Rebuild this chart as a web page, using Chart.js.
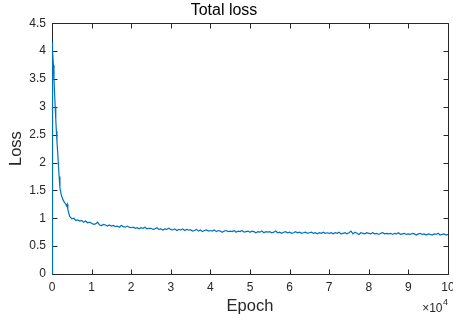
<!DOCTYPE html>
<html>
<head>
<meta charset="utf-8">
<title>Total loss</title>
<script src="https://cdn.jsdelivr.net/npm/chart.js@4.4.1/dist/chart.umd.min.js"></script>
<style>
  html, body { margin: 0; padding: 0; background: #fff; }
  #wrap { width: 453px; height: 321px; position: relative; }
</style>
</head>
<body>
<div id="wrap"><canvas id="lossChart"></canvas></div>
<script>
// === Data ===
// first few thousand epochs, sampled unevenly where the curve drops fast
const earlyEpochs = [0, 80, 200, 350, 500, 650, 800, 950, 1100, 1250, 1400, 1600, 1800, 2000, 2250, 2500, 2800, 3100, 3400, 3700, 3850, 4000, 4250, 4500, 4750];
const earlyLoss = [0, 4.16, 4.0, 3.75, 3.5, 3.25, 3.0, 2.78, 2.56, 2.38, 2.22, 1.98, 1.75, 1.55, 1.45, 1.38, 1.33, 1.29, 1.26, 1.22, 1.25, 1.16, 1.09, 1.03, 1.01];

// rest of the run, one reading every 500 epochs from 5000 to 100000
const tailStart = 5000;
const tailStep = 500;
const tailLoss = [
  0.99, 1.00, 0.96, 0.97, 0.95, 0.96, 0.93, 0.95, 0.92, 0.93,
  0.91, 0.89, 0.90, 0.93, 0.88, 0.87, 0.89, 0.88, 0.86, 0.88,
  0.86, 0.87, 0.85, 0.86, 0.84, 0.87, 0.85, 0.84, 0.86, 0.84,
  0.83, 0.84, 0.82, 0.83, 0.81, 0.83, 0.82, 0.84, 0.81, 0.82,
  0.82, 0.80, 0.81, 0.83, 0.80, 0.81, 0.79, 0.81, 0.80, 0.82,
  0.80, 0.79, 0.81, 0.78, 0.80, 0.79, 0.81, 0.78, 0.80, 0.79,
  0.79, 0.77, 0.78, 0.80, 0.77, 0.79, 0.76, 0.78, 0.79, 0.77,
  0.78, 0.77, 0.79, 0.76, 0.78, 0.77, 0.75, 0.77, 0.78, 0.76,
  0.77, 0.76, 0.78, 0.75, 0.77, 0.76, 0.78, 0.75, 0.76, 0.77,
  0.75, 0.77, 0.76, 0.74, 0.76, 0.75, 0.77, 0.74, 0.76, 0.75,
  0.76, 0.74, 0.75, 0.77, 0.74, 0.75, 0.73, 0.75, 0.76, 0.74,
  0.75, 0.73, 0.74, 0.76, 0.74, 0.75, 0.73, 0.74, 0.75, 0.73,
  0.74, 0.75, 0.73, 0.74, 0.72, 0.74, 0.73, 0.75, 0.73, 0.74,
  0.73, 0.74, 0.72, 0.74, 0.73, 0.75, 0.72, 0.73, 0.74, 0.72,
  0.74, 0.77, 0.72, 0.75, 0.73, 0.71, 0.74, 0.73, 0.72, 0.74,
  0.73, 0.72, 0.74, 0.72, 0.73, 0.71, 0.73, 0.74, 0.72, 0.73,
  0.72, 0.73, 0.71, 0.73, 0.72, 0.74, 0.71, 0.72, 0.73, 0.71,
  0.72, 0.71, 0.73, 0.72, 0.70, 0.72, 0.73, 0.71, 0.72, 0.70,
  0.72, 0.71, 0.70, 0.72, 0.71, 0.73, 0.70, 0.71, 0.72, 0.70, 0.71
];

const xTicks = [0, 10000, 20000, 30000, 40000, 50000, 60000, 70000, 80000, 90000, 100000];
const yTicks = [0, 0.5, 1, 1.5, 2, 2.5, 3, 3.5, 4, 4.5];

const FONT = "'Liberation Sans', Arial, Helvetica, sans-serif";
const AXIS_COLOR = "#262626";
const LINE_COLOR = "#0072BD";

// === Build point list ===
const points = earlyEpochs.map((e, i) => ({ x: e, y: earlyLoss[i] }));
tailLoss.forEach((v, i) => points.push({ x: tailStart + i * tailStep, y: v }));

// MATLAB-style box with inward ticks on all four sides.
// Built as a Path2D (plain path strokes did not show up in this renderer).
const matlabBox = {
  id: "matlabBox",
  beforeDatasetsDraw(chart) {
    const c = chart.ctx;
    const a = chart.chartArea;
    const xs = chart.scales.x;
    const ys = chart.scales.y;
    const tl = 5;
    const L = Math.round(a.left) + 0.5, R = Math.round(a.right) + 0.5;
    const T = Math.round(a.top) + 0.5, B = Math.round(a.bottom) + 0.5;
    const p = new Path2D();
    p.moveTo(L, T); p.lineTo(R, T); p.lineTo(R, B); p.lineTo(L, B); p.closePath();
    xs.ticks.forEach((t) => {
      const px = Math.round(xs.getPixelForValue(t.value)) + 0.5;
      p.moveTo(px, B); p.lineTo(px, B - tl);
      p.moveTo(px, T); p.lineTo(px, T + tl);
    });
    ys.ticks.forEach((t) => {
      const py = Math.round(ys.getPixelForValue(t.value)) + 0.5;
      p.moveTo(L, py); p.lineTo(L + tl, py);
      p.moveTo(R, py); p.lineTo(R - tl, py);
    });
    c.save();
    c.strokeStyle = AXIS_COLOR;
    c.lineWidth = 1;
    c.stroke(p);
    c.restore();
  },
  afterDraw(chart) {
    // x10^4 exponent under the right end of the x axis
    const c = chart.ctx;
    const a = chart.chartArea;
    c.save();
    c.fillStyle = AXIS_COLOR;
    c.textBaseline = "alphabetic";
    c.textAlign = "right";
    c.font = `9px ${FONT}`;
    c.fillText("4", a.right, 305);
    const w4 = c.measureText("4").width;
    c.font = `12px ${FONT}`;
    c.fillText("×10", a.right - w4 - 0.5, 312);
    c.restore();
  },
};

const chartCtx = document.getElementById("lossChart").getContext("2d");

new Chart(chartCtx, {
  type: "line",
  data: {
    datasets: [
      {
        label: "Total loss",
        data: points,
        borderColor: LINE_COLOR,
        borderWidth: 1.2,
        pointRadius: 0,
        tension: 0,
        fill: false,
        clip: false,
      },
    ],
  },
  options: {
    responsive: true,
    maintainAspectRatio: false,
    animation: false,
    layout: { padding: { left: 0, right: 5, top: 0, bottom: 0 } },
    plugins: {
      legend: { display: false },
      tooltip: { enabled: false },
      title: {
        display: true,
        text: "Total loss",
        color: "#000",
        font: { family: FONT, size: 16, weight: "normal" },
        padding: { top: 1, bottom: 3 },
      },
    },
    scales: {
      x: {
        type: "linear",
        min: 0,
        max: 100000,
        afterBuildTicks: (s) => { s.ticks = xTicks.map((v) => ({ value: v })); },
        afterFit: (s) => { s.height = 47; s.paddingLeft = 0; s.paddingRight = 0; },
        grid: { display: false, drawTicks: false },
        border: { display: false },
        ticks: {
          color: AXIS_COLOR,
          font: { family: FONT, size: 12 },
          padding: 6,
          maxRotation: 0,
          autoSkip: false,
          callback: (v) => String(v / 10000),
        },
        title: {
          display: true,
          text: "Epoch",
          color: AXIS_COLOR,
          font: { family: FONT, size: 16.5 },
          padding: { top: 0, bottom: 5 },
        },
      },
      y: {
        type: "linear",
        min: 0,
        max: 4.5,
        afterBuildTicks: (s) => { s.ticks = yTicks.map((v) => ({ value: v })); },
        afterFit: (s) => { s.width = 52; },
        grid: { display: false, drawTicks: false },
        border: { display: false },
        ticks: {
          color: AXIS_COLOR,
          font: { family: FONT, size: 12 },
          padding: 6,
          autoSkip: false,
          callback: (v) => String(+Number(v).toFixed(2)),
        },
        title: {
          display: true,
          text: "Loss",
          color: AXIS_COLOR,
          font: { family: FONT, size: 16.5 },
          padding: { top: 7, bottom: 0 },
        },
      },
    },
  },
  plugins: [matlabBox],
});
</script>
</body>
</html>
